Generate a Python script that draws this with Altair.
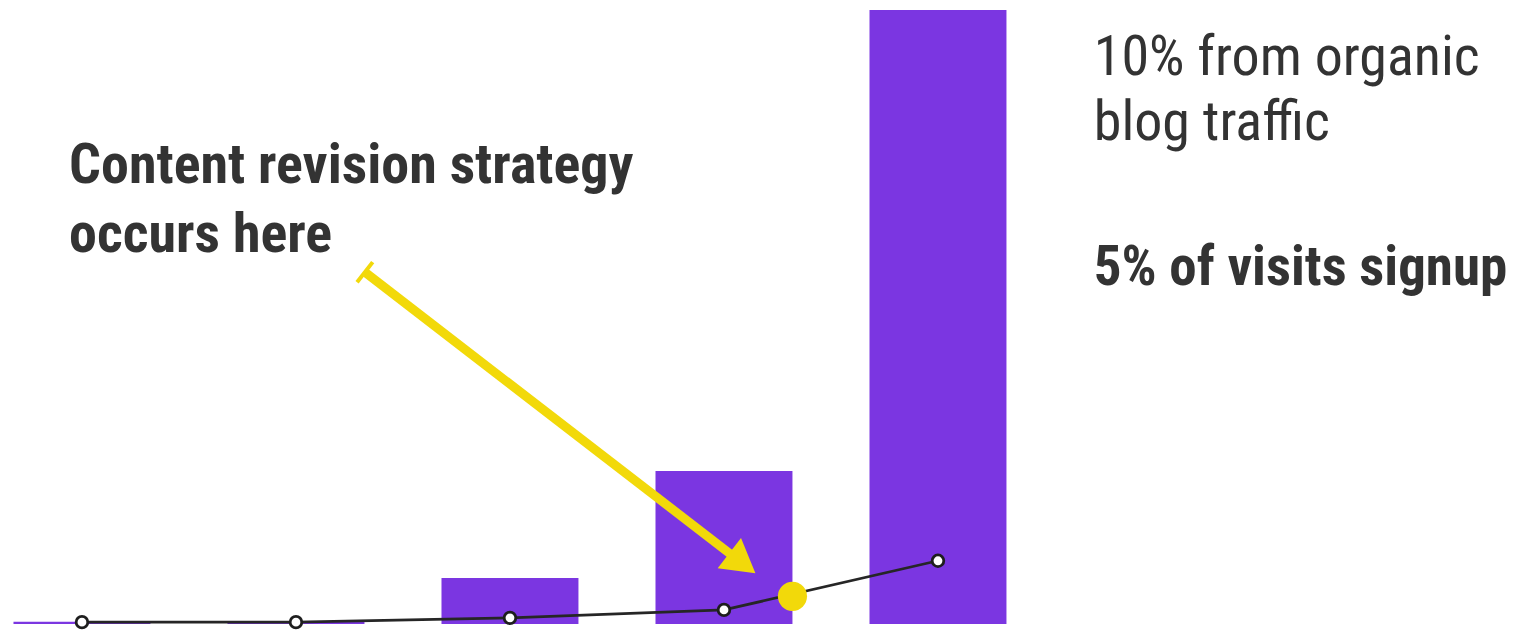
import altair as alt
import pandas as pd

# ---- data ----
positions = [0, 1, 2, 3, 4]
bar_values = [0.35, 0.5, 7.5, 24.9, 100]
line_values = [0.3, 0.3, 1.0, 2.3, 10.3]

highlight_x = [3.32]
highlight_y = [4.5]

# arrow annotation (data coordinates)
arrow_start = [1.322, 57.3]
arrow_end = [3.086, 9.9]
arrow_angle = 127.8

left_text = ["Content revision strategy", "occurs here"]
left_text_y = [71.8, 60.6]
right_text_light = ["10% from organic", "blog traffic"]
right_text_light_y = [89.4, 78.8]
right_text_bold = ["5% of visits signup"]
right_text_bold_y = [55.2]
left_text_x = -0.06
right_text_x = 4.728

PURPLE = "#7B36E1"
YELLOW = "#F2D90A"
DARK = "#333333"
FONT = "Roboto Condensed, Roboto"

X = alt.Scale(domain=[-0.383, 6.715], nice=False, zero=False)
Y = alt.Scale(domain=[-1.14, 101.63], nice=False, zero=False)
HALF = 0.32

bars_df = pd.DataFrame({"pos": positions, "value": bar_values})
line_df = pd.DataFrame({"pos": positions, "value": line_values})

bars = alt.Chart(bars_df).transform_calculate(
    x0=f"datum.pos - {HALF}", x1=f"datum.pos + {HALF}"
).mark_rect(color=PURPLE).encode(
    x=alt.X("x0:Q", scale=X, axis=None),
    x2="x1:Q",
    y=alt.Y("value:Q", scale=Y, axis=None),
    y2=alt.datum(0),
)

arrow_df = pd.DataFrame({"x": [arrow_start[0]], "y": [arrow_start[1]],
                         "x2": [arrow_end[0]], "y2": [arrow_end[1]]})
shaft = alt.Chart(arrow_df).mark_rule(color=YELLOW, strokeWidth=9).encode(
    x=alt.X("x:Q", scale=X), y=alt.Y("y:Q", scale=Y), x2="x2:Q", y2="y2:Q"
)
head = alt.Chart(pd.DataFrame({"x": [arrow_end[0]], "y": [arrow_end[1]]})).mark_point(
    shape="triangle-up", filled=True, color=YELLOW, size=1450, opacity=1, angle=arrow_angle
).encode(x=alt.X("x:Q", scale=X), y=alt.Y("y:Q", scale=Y))
cap = alt.Chart(pd.DataFrame({"x": [arrow_start[0]], "y": [arrow_start[1]]})).mark_point(
    shape="stroke", color=YELLOW, size=650, strokeWidth=4, opacity=1, angle=arrow_angle
).encode(x=alt.X("x:Q", scale=X), y=alt.Y("y:Q", scale=Y))

line = alt.Chart(line_df).mark_line(color="#262626", strokeWidth=2.8).encode(
    x=alt.X("pos:Q", scale=X), y=alt.Y("value:Q", scale=Y)
)
pts = alt.Chart(line_df).mark_point(
    shape="circle", filled=True, fill="white", stroke="#1e1e1e", strokeWidth=2.8, size=135, opacity=1
).encode(x=alt.X("pos:Q", scale=X), y=alt.Y("value:Q", scale=Y))

dot = alt.Chart(pd.DataFrame({"x": highlight_x, "y": highlight_y})).mark_point(
    shape="circle", filled=True, color=YELLOW, size=850, opacity=1
).encode(x=alt.X("x:Q", scale=X), y=alt.Y("y:Q", scale=Y))

left_df = pd.DataFrame({"t": left_text, "y": left_text_y, "x": [left_text_x] * len(left_text)})
left_txt = alt.Chart(left_df).mark_text(
    align="left", baseline="alphabetic", font=FONT, fontWeight="bold",
    fontSize=56, color=DARK
).encode(x=alt.X("x:Q", scale=X), y=alt.Y("y:Q", scale=Y), text="t:N")

rl_df = pd.DataFrame({"t": right_text_light, "y": right_text_light_y,
                      "x": [right_text_x] * len(right_text_light)})
right_light = alt.Chart(rl_df).mark_text(
    align="left", baseline="alphabetic", font=FONT, fontWeight="normal", fontSize=56, color=DARK
).encode(x=alt.X("x:Q", scale=X), y=alt.Y("y:Q", scale=Y), text="t:N")

rb_df = pd.DataFrame({"t": right_text_bold, "y": right_text_bold_y,
                      "x": [right_text_x] * len(right_text_bold)})
right_bold = alt.Chart(rb_df).mark_text(
    align="left", baseline="alphabetic", font=FONT, fontWeight="bold", fontSize=55, color=DARK
).encode(x=alt.X("x:Q", scale=X), y=alt.Y("y:Q", scale=Y), text="t:N")

chart = alt.layer(bars, shaft, cap, head, line, pts, dot, left_txt, right_light, right_bold).properties(
    width=1519, height=631, padding=0, autosize=alt.AutoSizeParams(type="none"),
    background="white",
).configure_view(stroke=None)

chart.save("out.html", embed_options={"renderer": "svg", "actions": False})
